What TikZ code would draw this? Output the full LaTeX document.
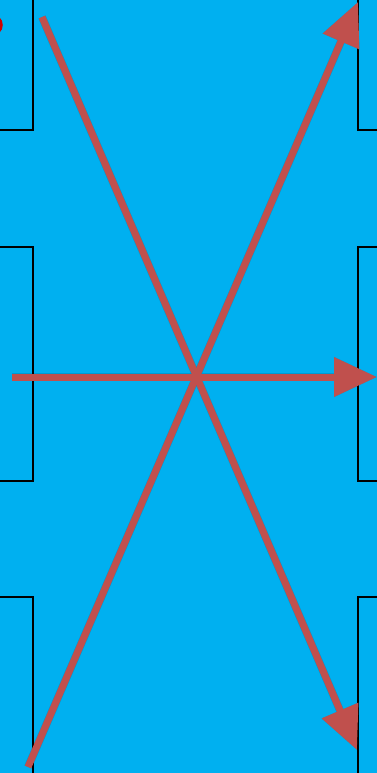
\documentclass[tikz,border=0pt]{standalone}
\usepackage{tikz}
\usetikzlibrary{arrows.meta,positioning,calc}

\definecolor{skyfill}{HTML}{00B0F0}
\definecolor{arrowred}{HTML}{C0504D}
\definecolor{dotred}{HTML}{D00000}

\begin{document}
\begin{tikzpicture}[
x=1pt, y=-1pt,
slot/.style={draw=black, line width=2.2pt},
cross/.style={draw=arrowred, line width=7pt, -{Triangle[length=43pt, width=38pt]}},
shade/.style={draw=black, opacity=0.12, line width=8pt, -{Triangle[length=43pt, width=38pt]}, shift={(2,3)}}
]
\useasboundingbox (0,0) rectangle (377,773);
\clip (0,0) rectangle (377,773);
\fill[skyfill] (0,0) rectangle (377,773);

% left slots
\draw[slot] (-60,-20) rectangle (33,130);
\draw[slot] (-60,247) rectangle (33,481);
\draw[slot] (-60,597) rectangle (33,800);
% right slots
\draw[slot] (358,-20) rectangle (440,130);
\draw[slot] (358,247) rectangle (440,481);
\draw[slot] (358,597) rectangle (440,800);

\fill[dotred] (-8,25) circle (10.8);

\coordinate (topstart) at (42,17);
\coordinate (botend) at (357,750);
\coordinate (botstart) at (28,767);
\coordinate (topend) at (358,2);
\coordinate (midstart) at (12,377);
\coordinate (midend) at (377,377);

% soft shadows
\draw[shade] (topstart) -- (botend);
\draw[shade] (botstart) -- (topend);
\draw[shade] (midstart) -- (midend);

\draw[cross] (topstart) -- (botend);
\draw[cross] (botstart) -- (topend);
\draw[cross] (midstart) -- (midend);
\end{tikzpicture}
\end{document}
